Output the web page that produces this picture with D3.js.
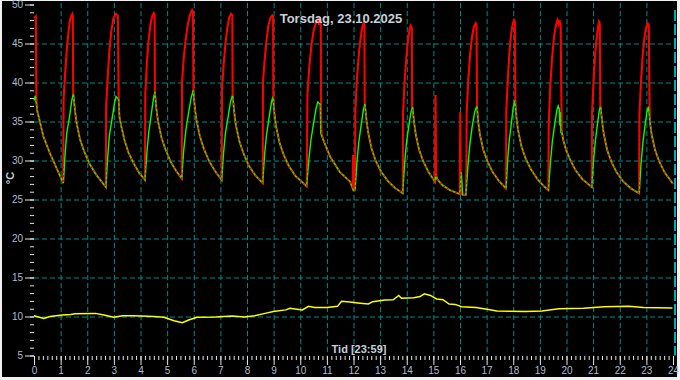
<!DOCTYPE html>
<html>
<head>
<meta charset="utf-8">
<script src="https://cdn.jsdelivr.net/npm/d3@7"></script>
<style>
  body { margin: 0; background: #f0f0f0; }
  text { font-family: "Liberation Sans", Arial, sans-serif; }
</style>
</head>
<body>
<div id="chart"></div>
<script>
// Labels
const title = "Torsdag, 23.10.2025";
const xLabel = "Tid [23:59]";
const yLabel = "°C";
const hourTicks = d3.range(0, 25);
const tempTicks = [5, 10, 15, 20, 25, 30, 35, 40, 45, 50];

// Cooling phases, both sensors read the same here [hour, °C]
const decay = [
  [0.12, 36.4], [0.22, 35.0], [0.35, 33.1], [0.60, 30.9], [0.85, 29.0], [1.10, 27.1],
  [1.54, 36.4], [1.60, 34.8], [1.73, 32.7], [1.88, 31.2], [2.08, 29.6], [2.33, 28.2], [2.70, 26.6],
  [3.21, 35.6], [3.27, 34.5], [3.40, 32.6], [3.55, 31.0], [3.75, 29.6], [3.95, 28.4], [4.17, 27.5],
  [4.60, 36.5], [4.66, 35.0], [4.79, 32.9], [4.94, 31.4], [5.14, 29.8], [5.35, 28.6], [5.55, 27.7],
  [6.04, 36.8], [6.10, 35.2], [6.23, 33.1], [6.38, 31.5], [6.58, 29.9], [6.83, 28.5], [7.05, 27.5],
  [7.52, 36.2], [7.58, 34.6], [7.71, 32.5], [7.86, 31.0], [8.06, 29.4], [8.31, 28.1], [8.59, 27.1],
  [9.03, 36.0], [9.09, 34.4], [9.22, 32.3], [9.37, 30.8], [9.57, 29.3], [9.82, 28.0], [10.05, 27.3], [10.24, 26.7],
  [10.87, 32.6], [11.12, 30.5], [11.49, 28.5], [11.87, 27.3], [11.97, 26.4], [11.99, 26.2], [12.06, 26.2],
  [12.49, 35.1], [12.55, 33.6], [12.68, 31.5], [12.83, 30.0], [13.03, 28.6], [13.28, 27.4], [13.55, 26.5], [13.85, 25.8],
  [14.28, 34.8], [14.34, 33.3], [14.47, 31.3], [14.62, 29.9], [14.82, 28.5], [15.06, 27.3], [15.14, 27.6],
  [15.35, 26.8], [15.62, 26.2], [15.99, 25.7], [16.10, 25.6], [16.22, 25.6],
  [16.69, 34.8], [16.75, 33.3], [16.88, 31.3], [17.03, 29.9], [17.23, 28.5], [17.48, 27.3], [17.73, 26.4],
  [18.12, 35.5], [18.18, 33.9], [18.31, 31.8], [18.46, 30.3], [18.66, 28.9], [18.91, 27.6], [19.15, 26.7], [19.32, 26.2],
  [19.88, 32.6], [20.00, 31.2], [20.15, 30.0], [20.35, 28.7], [20.60, 27.6], [20.95, 26.6],
  [21.34, 34.9], [21.40, 33.4], [21.53, 31.3], [21.68, 29.9], [21.88, 28.5], [22.13, 27.3], [22.43, 26.4], [22.73, 25.8],
  [23.14, 34.8], [23.20, 33.3], [23.33, 31.3], [23.48, 29.9], [23.68, 28.5], [23.85, 27.7], [24.00, 27.0]
];

// Heating phases, green sensor
const greenOnly = [
  [0.00, 37.7], [0.05, 38.3],
  [1.17, 30.9], [1.23, 33.5], [1.33, 35.5], [1.42, 37.7], [1.48, 38.6],
  [2.77, 30.5], [2.83, 33.2], [2.93, 35.3], [3.02, 37.3], [3.08, 38.2], [3.18, 37.8],
  [4.24, 31.0], [4.31, 33.6], [4.40, 35.8], [4.48, 37.8], [4.54, 38.8],
  [5.62, 31.2], [5.70, 33.8], [5.80, 36.0], [5.90, 38.0], [5.98, 39.0],
  [7.12, 31.0], [7.19, 33.5], [7.29, 35.6], [7.38, 37.5], [7.46, 38.4],
  [8.66, 30.7], [8.73, 33.2], [8.82, 35.3], [8.91, 37.3], [8.97, 38.2],
  [10.32, 30.0], [10.40, 32.6], [10.50, 34.8], [10.59, 36.6], [10.66, 37.5], [10.75, 37.2], [10.77, 33.5],
  [12.13, 29.8], [12.20, 32.4], [12.29, 34.6], [12.37, 36.5], [12.43, 37.3],
  [13.92, 29.6], [13.99, 32.3], [14.08, 34.5], [14.16, 36.2], [14.22, 36.9], [15.10, 28.2], [16.05, 28.5],
  [16.30, 29.4], [16.37, 32.1], [16.46, 34.4], [16.55, 36.2], [16.63, 37.0],
  [17.79, 30.0], [17.85, 32.6], [17.93, 34.8], [18.00, 36.8], [18.06, 37.7],
  [19.40, 29.9], [19.47, 32.5], [19.56, 34.7], [19.64, 36.5], [19.69, 37.0], [19.73, 36.6], [19.75, 34.5],
  [19.77, 36.2], [19.79, 33.5], [19.82, 33.8],
  [21.01, 29.8], [21.08, 32.4], [21.16, 34.6], [21.23, 36.4], [21.28, 37.0],
  [22.80, 29.6], [22.87, 32.3], [22.95, 34.5], [23.02, 36.2], [23.08, 36.9]
];

// Heating phases, red sensor
const redOnly = [
  [0.00, 48.3], [0.07, 48.5], [0.09, 38.0],
  [1.11, 37.7], [1.17, 41.2], [1.23, 44.1], [1.29, 46.3], [1.35, 48.0], [1.44, 48.8], [1.46, 48.6], [1.47, 38.6],
  [2.71, 37.0], [2.77, 40.8], [2.83, 44.0], [2.90, 46.5], [2.98, 48.2], [3.08, 48.8], [3.15, 48.6], [3.18, 37.8],
  [4.18, 38.5], [4.24, 42.5], [4.30, 45.3], [4.37, 47.3], [4.44, 48.5], [4.50, 48.9], [4.53, 48.7], [4.54, 38.8],
  [5.56, 40.0], [5.62, 43.0], [5.70, 45.6], [5.78, 47.5], [5.86, 48.7], [5.94, 49.3], [5.97, 49.1], [5.99, 39.0],
  [7.06, 39.0], [7.12, 42.2], [7.19, 45.0], [7.26, 47.0], [7.33, 48.3], [7.40, 48.8], [7.45, 48.6], [7.46, 38.4],
  [8.60, 40.0], [8.66, 42.8], [8.73, 45.3], [8.80, 47.2], [8.88, 48.3], [8.95, 48.6], [8.98, 48.4], [8.99, 38.0],
  [10.25, 28.5], [10.27, 38.5], [10.34, 42.0], [10.42, 44.8], [10.50, 46.6], [10.60, 47.8], [10.68, 48.2],
  [10.71, 47.4], [10.74, 48.0], [10.77, 47.6], [10.78, 36.0], [10.80, 33.4], [11.98, 30.7],
  [12.07, 36.5], [12.13, 40.5], [12.20, 43.6], [12.27, 45.8], [12.33, 47.1], [12.38, 47.6], [12.41, 47.4], [12.42, 37.3],
  [13.86, 36.0], [13.92, 40.2], [13.99, 43.4], [14.05, 45.6], [14.11, 46.9], [14.15, 47.3], [14.19, 47.0], [14.20, 36.9],
  [15.08, 38.4], [15.10, 28.4], [16.01, 36.2], [16.03, 25.8],
  [16.24, 29.0], [16.25, 36.0], [16.31, 40.3], [16.38, 43.6], [16.45, 45.8], [16.52, 47.1], [16.59, 47.6], [16.62, 47.4], [16.64, 37.0],
  [17.74, 36.5], [17.80, 40.8], [17.86, 44.0], [17.92, 46.2], [17.98, 47.5], [18.03, 48.0], [18.06, 47.8], [18.08, 37.7],
  [19.33, 34.5], [19.39, 39.5], [19.46, 43.2], [19.53, 45.8], [19.60, 47.3], [19.66, 48.0], [19.70, 47.5],
  [19.74, 48.0], [19.78, 47.4], [19.82, 33.8],
  [20.96, 36.0], [21.02, 40.5], [21.08, 43.8], [21.14, 46.0], [21.19, 47.3], [21.22, 47.8], [21.25, 47.6], [21.27, 37.0],
  [22.74, 36.0], [22.80, 40.2], [22.86, 43.4], [22.92, 45.6], [22.98, 46.9], [23.05, 47.6], [23.09, 47.4], [23.12, 36.9]
];

// Outdoor / room sensor (yellow)
const yellow = [
  [0.00, 10.1], [0.37, 9.75], [0.60, 10.0], [1.07, 10.2], [1.38, 10.25], [1.54, 10.35], [2.31, 10.4],
  [2.62, 10.2], [3.00, 9.9], [3.32, 10.1], [3.71, 10.1], [4.02, 10.05], [4.49, 10.0], [4.88, 9.9],
  [5.26, 9.45], [5.57, 9.2], [5.81, 9.55], [6.12, 9.9], [6.82, 9.95], [7.44, 10.05], [7.90, 9.95],
  [8.29, 10.1], [8.68, 10.4], [8.99, 10.65], [9.46, 10.85], [9.61, 11.05], [10.08, 10.85], [10.31, 11.3],
  [10.54, 11.15], [11.01, 11.15], [11.40, 11.3], [11.55, 11.95], [11.86, 11.85], [12.25, 11.7],
  [12.56, 11.6], [12.72, 11.9], [13.18, 12.1], [13.49, 12.15], [13.70, 12.7], [13.80, 12.35],
  [14.27, 12.4], [14.50, 12.55], [14.66, 12.9], [14.89, 12.7], [15.12, 12.25], [15.36, 12.15],
  [15.59, 11.6], [15.82, 11.55], [16.06, 11.25], [16.60, 11.15], [17.07, 10.9], [17.38, 10.7],
  [18.46, 10.65], [19.08, 10.7], [19.71, 11.0], [20.64, 11.05], [21.41, 11.25], [22.34, 11.3],
  [22.89, 11.15], [23.98, 11.1]
];

const red = d3.sort(redOnly.concat(decay), d => d[0]);
const green = d3.sort(greenOnly.concat(decay), d => d[0]);

const W = 680, H = 380;
const svg = d3.select("#chart")
  .append("svg")
  .attr("width", W)
  .attr("height", H);

// frame
svg.append("rect").attr("width", W).attr("height", H).attr("fill", "#f0f0f0");
svg.append("rect").attr("x", 2).attr("y", 1).attr("width", 675).attr("height", 376).attr("fill", "#000");

const x = d3.scaleLinear().domain([0, 24]).range([34, 673]);
const y = d3.scaleLinear().domain([5, 50]).range([355.5, 4.5]);

const gridColor = "#008b8b";

// vertical grid
svg.append("g")
  .selectAll("line")
  .data(hourTicks.filter(h => h > 0 && h < 24))
  .enter()
  .append("line")
  .attr("x1", d => x(d) + 0.5)
  .attr("x2", d => x(d) + 0.5)
  .attr("y1", 3)
  .attr("y2", y(5))
  .attr("stroke", gridColor)
  .attr("stroke-dasharray", "5,3");

// horizontal grid
svg.append("g")
  .selectAll("line")
  .data(tempTicks.filter(t => t > 5 && t < 50))
  .enter()
  .append("line")
  .attr("x1", x(0))
  .attr("x2", x(24))
  .attr("y1", d => y(d) + 0.5)
  .attr("y2", d => y(d) + 0.5)
  .attr("stroke", gridColor)
  .attr("stroke-dasharray", "5,3");

// marker at end of day
svg.append("line")
  .attr("x1", x(24) + 2)
  .attr("x2", x(24) + 2)
  .attr("y1", 10)
  .attr("y2", y(5))
  .attr("stroke", "#00e5f0")
  .attr("stroke-width", 1.5)
  .attr("stroke-dasharray", "11,3");

const tickColor = "#e6e6e6";
const labelColor = "#aebcd2";

// y axis, minor + major
const yMinor = svg.append("g")
  .attr("transform", `translate(${x(0)},0)`)
  .call(d3.axisLeft(y).tickValues(d3.range(5, 51, 1)).tickSize(4).tickFormat(""));
const yMajor = svg.append("g")
  .attr("transform", `translate(${x(0)},0)`)
  .call(d3.axisLeft(y).tickValues(tempTicks).tickSize(9).tickPadding(2));

// x axis, minor + major
const xMinor = svg.append("g")
  .attr("transform", `translate(0,${y(5) + 0.5})`)
  .call(d3.axisBottom(x).tickValues(d3.range(0, 24.01, 1 / 6)).tickSize(4).tickFormat(""));
const xMajor = svg.append("g")
  .attr("transform", `translate(0,${y(5) + 0.5})`)
  .call(d3.axisBottom(x).tickValues(hourTicks).tickSize(9).tickPadding(2).tickFormat(d3.format("d")));

[yMinor, yMajor, xMinor, xMajor].forEach(g => {
  g.select(".domain").remove();
  g.selectAll(".tick line").attr("stroke", tickColor);
  g.selectAll(".tick text")
    .attr("fill", labelColor)
    .style("font-size", "10px")
    .style("font-family", "'Liberation Sans', Arial, sans-serif");
});

// series lines
const line = d3.line()
  .x(d => x(d[0]))
  .y(d => y(d[1]));

svg.append("path")
  .datum(yellow)
  .attr("d", line)
  .attr("fill", "none")
  .attr("stroke", "#ffff00")
  .attr("stroke-width", 1.5);

svg.append("path")
  .datum(red)
  .attr("d", line)
  .attr("fill", "none")
  .attr("stroke", "#ff0000")
  .attr("stroke-width", 2);

svg.append("path")
  .datum(green)
  .attr("d", line)
  .attr("fill", "none")
  .attr("stroke", "#00ff00")
  .attr("stroke-width", 1.4);

// red sensor again, dashed, so the shared cooling part shows both colours
svg.append("path")
  .datum(red)
  .attr("d", line)
  .attr("fill", "none")
  .attr("stroke", "#ff0000")
  .attr("stroke-width", 1.4)
  .attr("stroke-dasharray", "2,2.5");

// texts
svg.append("text")
  .attr("x", 341)
  .attr("y", 23)
  .attr("text-anchor", "middle")
  .attr("fill", "#c8d0dc")
  .style("font-size", "13px")
  .style("font-weight", "bold")
  .text(title);

svg.append("text")
  .attr("x", 359)
  .attr("y", 353)
  .attr("text-anchor", "middle")
  .attr("fill", "#c8d0dc")
  .style("font-size", "11px")
  .style("font-weight", "bold")
  .text(xLabel);

svg.append("text")
  .attr("transform", "translate(14,178) rotate(-90)")
  .attr("text-anchor", "middle")
  .attr("fill", "#c8d0dc")
  .style("font-size", "11px")
  .style("font-weight", "bold")
  .text(yLabel);
</script>
</body>
</html>
